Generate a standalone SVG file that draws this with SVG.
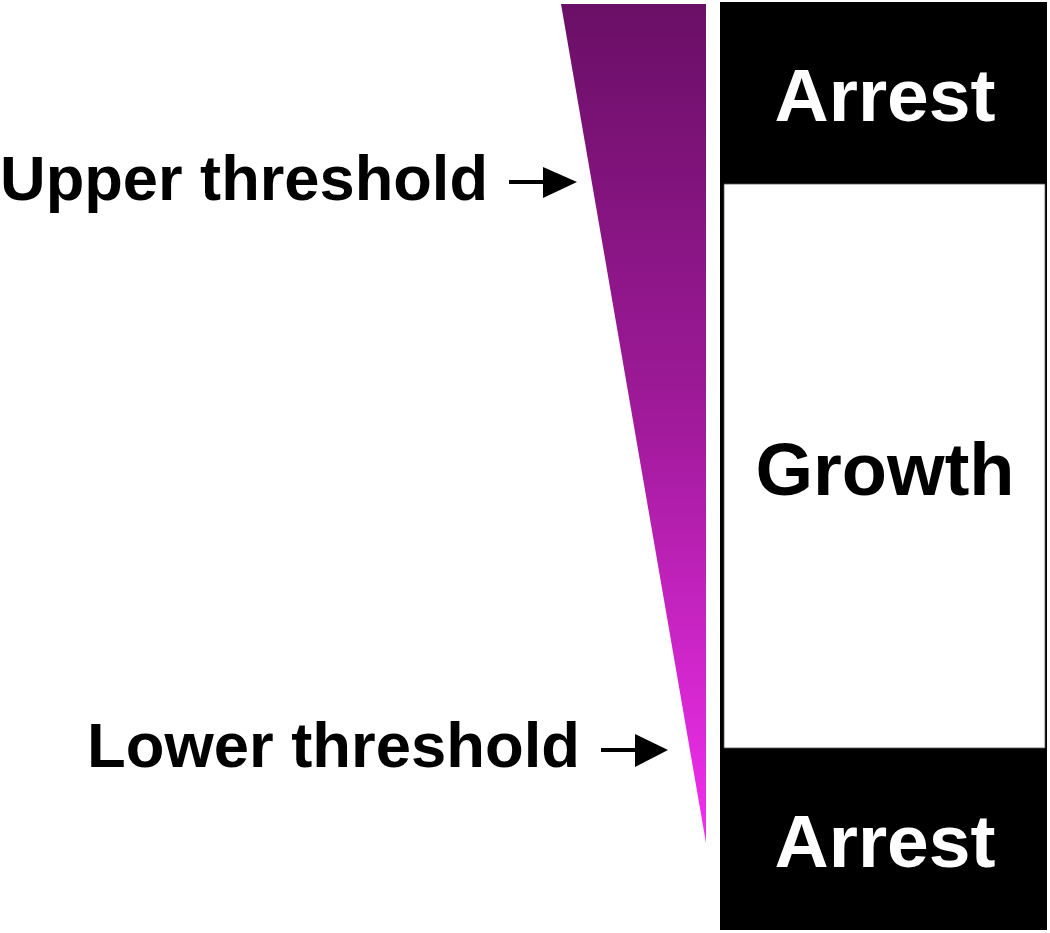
<svg xmlns="http://www.w3.org/2000/svg" width="1050" height="933" viewBox="0 0 1050 933">
<defs>
<linearGradient id="wedgeGrad" x1="0" y1="0" x2="0" y2="1">
<stop offset="0" stop-color="#6a0f66"/>
<stop offset="0.5" stop-color="#a11a9b"/>
<stop offset="1" stop-color="#f22fee"/>
</linearGradient>
<style>
.label{font-family:"Liberation Sans",Arial,sans-serif;font-weight:bold;font-size:63px;fill:#000}
.boxText{font-family:"Liberation Sans",Arial,sans-serif;font-weight:bold;text-anchor:middle}
.arrow{fill:#000}
.shaft{stroke:#000;stroke-width:4}
</style>
</defs>
<rect width="1050" height="933" fill="#fff"/>
<g id="wedge">
<polygon points="561,4 706,4 706,843" fill="url(#wedgeGrad)"/>
</g>
<g id="bar">
<rect x="720" y="2" width="327" height="928" fill="#000"/>
<rect x="724" y="184" width="321" height="564" fill="#fff" stroke="#555" stroke-width="0.8"/>
</g>
<g id="arrestTop">
<text class="boxText" x="885" y="121" font-size="75" fill="#fff">Arrest</text>
</g>
<g id="growth">
<text class="boxText" x="885" y="495" font-size="74" fill="#000">Growth</text>
</g>
<g id="arrestBottom">
<text class="boxText" x="885" y="867" font-size="75" fill="#fff">Arrest</text>
</g>
<g id="upperLabel">
<text class="label" x="0" y="200" textLength="488" lengthAdjust="spacingAndGlyphs">Upper threshold</text>
</g>
<g id="lowerLabel">
<text class="label" x="87" y="767" textLength="493" lengthAdjust="spacingAndGlyphs">Lower threshold</text>
</g>
<g id="connectors">
<line class="shaft" x1="509" y1="182" x2="546" y2="182"/>
<polygon class="arrow" points="543,167 577,182 543,198"/>
<line class="shaft" x1="601" y1="750" x2="638" y2="750"/>
<polygon class="arrow" points="635,734 668,750 635,767"/>
</g>
</svg>
